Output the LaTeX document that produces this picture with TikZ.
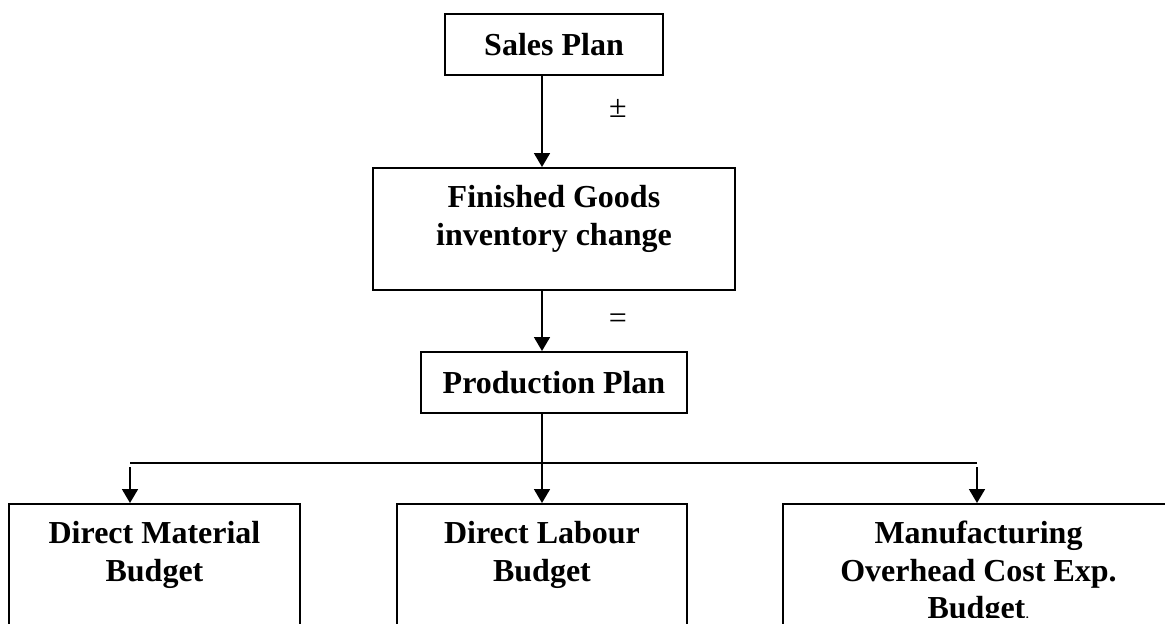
\documentclass[tikz,border=0pt]{standalone}
\usepackage{fontspec}
\setmainfont{Liberation Serif}
\usetikzlibrary{arrows.meta}
\begin{document}
\begin{tikzpicture}[x=1pt,y=-1pt,
  box/.style={draw,line width=1.8pt,rectangle,inner sep=0pt,anchor=north},
  bf/.style={font=\bfseries\fontsize{32}{37.5}\selectfont},
  lbl/.style={bf,align=center,inner sep=0pt,anchor=north},
  sym/.style={font=\fontsize{32}{37.5}\selectfont,inner sep=0pt},
  arr/.style={line width=1.8pt,-{Triangle[width=16pt,length=14pt]}},
  ln/.style={line width=1.8pt}]
\clip (0,0) rectangle (1165,624);
\fill[white] (0,0) rectangle (1165,624);
% boxes
\node[box,bf,minimum width=218pt,minimum height=61pt] (sales) at (554,13) {Sales Plan};
\node[box,minimum width=362pt,minimum height=122pt] (fg) at (554,167) {};
\node[lbl] (fgT) at (554,185.5) {Finished Goods\\inventory change};
\node[box,bf,minimum width=266pt,minimum height=61pt] (prod) at (554,351) {Production Plan};
\node[box,minimum width=291pt,minimum height=200pt] (dm) at (154.5,503) {};
\node[lbl] (dmT) at (154.5,521.5) {Direct Material\\Budget};
\node[box,minimum width=290pt,minimum height=200pt] (dl) at (542,503) {};
\node[lbl] (dlT) at (542,521.5) {Direct Labour\\Budget};
\node[box,minimum width=391pt,minimum height=200pt] (moc) at (978.5,503) {};
\begin{scope}
\clip (783,500) rectangle (1165,617);
\node[lbl] (mocT) at (978.5,521) {Manufacturing\\Overhead Cost Exp.\\Budget{\mdseries\fontsize{16}{18}\selectfont.}};
\end{scope}
% symbols
\node[sym] (pm) at (618,108) {±};
\node[sym] (eq) at (618,321) {=};
% connectors
\coordinate (spine) at (542,0);
\coordinate (lft) at (130,463);
\coordinate (rgt) at (977,463);
\coordinate (lft0) at (130,467);
\coordinate (rgt0) at (977,467);
\draw[arr] (sales.south -| spine) -- (fg.north -| spine);
\draw[arr] (fg.south -| spine) -- (prod.north -| spine);
\draw[arr] (prod.south -| spine) -- (dl.north -| spine);
\draw[ln] (lft) -- (rgt);
\draw[arr] (lft0) -- (dm.north -| lft0);
\draw[arr] (rgt0) -- (moc.north -| rgt0);
\end{tikzpicture}
\end{document}
